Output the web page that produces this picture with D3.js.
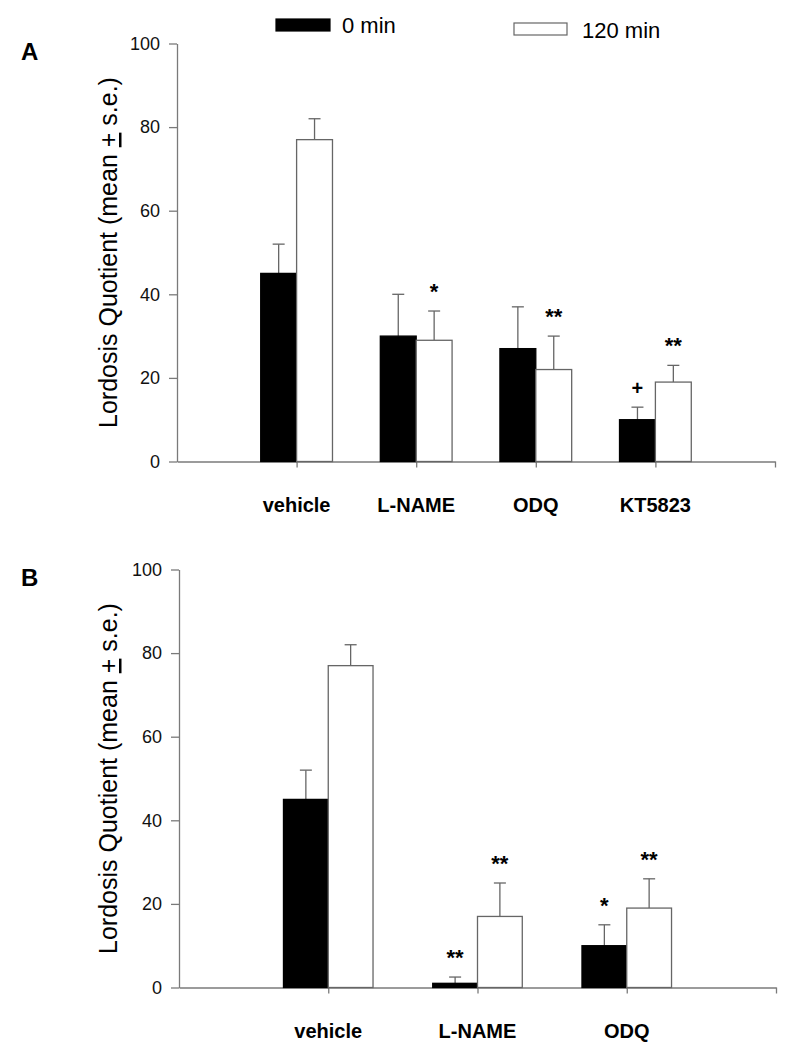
<!DOCTYPE html>
<html>
<head>
<meta charset="utf-8">
<script src="https://cdn.jsdelivr.net/npm/d3@7"></script>
<style>
  html, body { margin: 0; padding: 0; background: #fff; }
  svg { display: block; font-family: "Liberation Sans", Arial, Helvetica, sans-serif; }
</style>
</head>
<body>
<svg id="chart" width="800" height="1056"></svg>
<script>
// ---------- data ----------
const yTicks = [0, 20, 40, 60, 80, 100];
const seriesNames = ["0 min", "120 min"];

const categoriesA = ["vehicle", "L-NAME", "ODQ", "KT5823"];
const meanA0   = [45, 30, 27, 10];
const seA0     = [7, 10, 10, 3];
const meanA120 = [77, 29, 22, 19];
const seA120   = [5, 7, 8, 4];
const marksA0   = ["", "", "", "+"];
const marksA120 = ["", "*", "**", "**"];

const categoriesB = ["vehicle", "L-NAME", "ODQ"];
const meanB0   = [45, 1, 10];
const seB0     = [7, 1.5, 5];
const meanB120 = [77, 17, 19];
const seB120   = [5, 8, 7];
const marksB0   = ["", "**", "*"];
const marksB120 = ["", "**", "**"];

// ---------- drawing ----------
const svg = d3.select("#chart");
const axisColor = "#7a7a7a";
const barWidthUnits = 0.3;

function drawPanel(opt) {
  const { letter, cats, m0, s0, m1, s1, k0, k1, left, right, top, bottom, labelY } = opt;
  const n = cats.length;
  const x = d3.scaleLinear().domain([0, n + 1]).range([left, right]);
  const y = d3.scaleLinear().domain([0, 100]).range([bottom, top]);
  const g = svg.append("g");

  // y axis
  const ya = g.append("g").attr("transform", `translate(${left},0)`)
    .call(d3.axisLeft(y).tickValues(yTicks).tickSize(8).tickPadding(9).tickSizeOuter(0));
  ya.select(".domain").attr("stroke", axisColor).attr("stroke-width", 1.3);
  ya.selectAll(".tick line").attr("stroke", axisColor).attr("stroke-width", 1.3);
  ya.selectAll(".tick text").attr("font-size", 18).attr("fill", "#111")
    .attr("font-family", "Liberation Sans, Arial, sans-serif");

  // x axis
  const xt = d3.range(1, n + 2);
  const xa = g.append("g").attr("transform", `translate(0,${bottom})`)
    .call(d3.axisBottom(x).tickValues(xt).tickFormat("").tickSize(6).tickSizeOuter(0));
  xa.select(".domain").attr("stroke", axisColor).attr("stroke-width", 1.3);
  xa.selectAll(".tick line").attr("stroke", axisColor).attr("stroke-width", 1.3);

  const bw = x(barWidthUnits) - x(0);
  const rows = [];
  cats.forEach((c, i) => {
    rows.push({ i, s: 0, v: m0[i], e: s0[i], mk: k0[i] });
    rows.push({ i, s: 1, v: m1[i], e: s1[i], mk: k1[i] });
  });
  const bx = d => x(d.i + 1) + (d.s === 0 ? -bw : 0);

  // error bars (upper only)
  const eb = g.append("g");
  rows.forEach(d => {
    const cx = bx(d) + bw / 2;
    eb.append("line").attr("x1", cx).attr("x2", cx)
      .attr("y1", y(d.v)).attr("y2", y(d.v + d.e))
      .attr("stroke", "#666").attr("stroke-width", 1.3);
    eb.append("line").attr("x1", cx - 6).attr("x2", cx + 6)
      .attr("y1", y(d.v + d.e)).attr("y2", y(d.v + d.e))
      .attr("stroke", "#666").attr("stroke-width", 1.3);
  });

  // bars
  g.append("g").selectAll("rect").data(rows).join("rect")
    .attr("x", bx)
    .attr("y", d => y(d.v))
    .attr("width", bw)
    .attr("height", d => y(0) - y(d.v))
    .attr("fill", d => d.s === 0 ? "#000" : "#fff")
    .attr("stroke", d => d.s === 0 ? "#000" : "#666")
    .attr("stroke-width", 1.3);

  // significance marks
  g.append("g").selectAll("text").data(rows.filter(d => d.mk)).join("text")
    .attr("x", d => bx(d) + bw / 2)
    .attr("y", d => y(d.v + d.e) - 12)
    .attr("text-anchor", "middle")
    .attr("font-weight", "bold")
    .attr("font-size", d => d.mk === "+" ? 20 : 22)
    .attr("letter-spacing", d => d.mk.length > 1 ? 0 : 0)
    .text(d => d.mk);

  // category labels
  g.append("g").selectAll("text").data(cats).join("text")
    .attr("x", (d, i) => x(i + 1))
    .attr("y", labelY)
    .attr("text-anchor", "middle")
    .attr("font-weight", "bold")
    .attr("font-size", 20)
    .text(d => d);

  // y-axis title
  const cy = (top + bottom) / 2;
  const t = g.append("text")
    .attr("transform", `translate(117,${cy}) rotate(-90)`)
    .attr("text-anchor", "middle")
    .attr("font-size", 25);
  t.append("tspan").text("Lordosis Quotient (mean ");
  t.append("tspan").attr("text-decoration", "underline").text("+");
  t.append("tspan").text(" s.e.)");

  // panel letter
  g.append("text").attr("x", 21).attr("y", top + 16)
    .attr("font-weight", "bold").attr("font-size", 24).text(letter);
}

drawPanel({ letter: "A", cats: categoriesA, m0: meanA0, s0: seA0, m1: meanA120, s1: seA120,
  k0: marksA0, k1: marksA120, left: 177, right: 775, top: 43.5, bottom: 461.5, labelY: 512 });
drawPanel({ letter: "B", cats: categoriesB, m0: meanB0, s0: seB0, m1: meanB120, s1: seB120,
  k0: marksB0, k1: marksB120, left: 179, right: 776, top: 569.5, bottom: 987.5, labelY: 1038 });

// legend
const leg = svg.append("g");
const legendItems = [
  { name: seriesNames[0], fill: "#000", stroke: "#000", rx: 276, ry: 19, rw: 54, rh: 12, tx: 342, ty: 33 },
  { name: seriesNames[1], fill: "#fff", stroke: "#666", rx: 514, ry: 23, rw: 53, rh: 12, tx: 582, ty: 38 }
];
legendItems.forEach(d => {
  leg.append("rect").attr("x", d.rx).attr("y", d.ry).attr("width", d.rw).attr("height", d.rh)
    .attr("fill", d.fill).attr("stroke", d.stroke).attr("stroke-width", 1.2);
  leg.append("text").attr("x", d.tx).attr("y", d.ty).attr("font-size", 22).text(d.name);
});
</script>
</body>
</html>
